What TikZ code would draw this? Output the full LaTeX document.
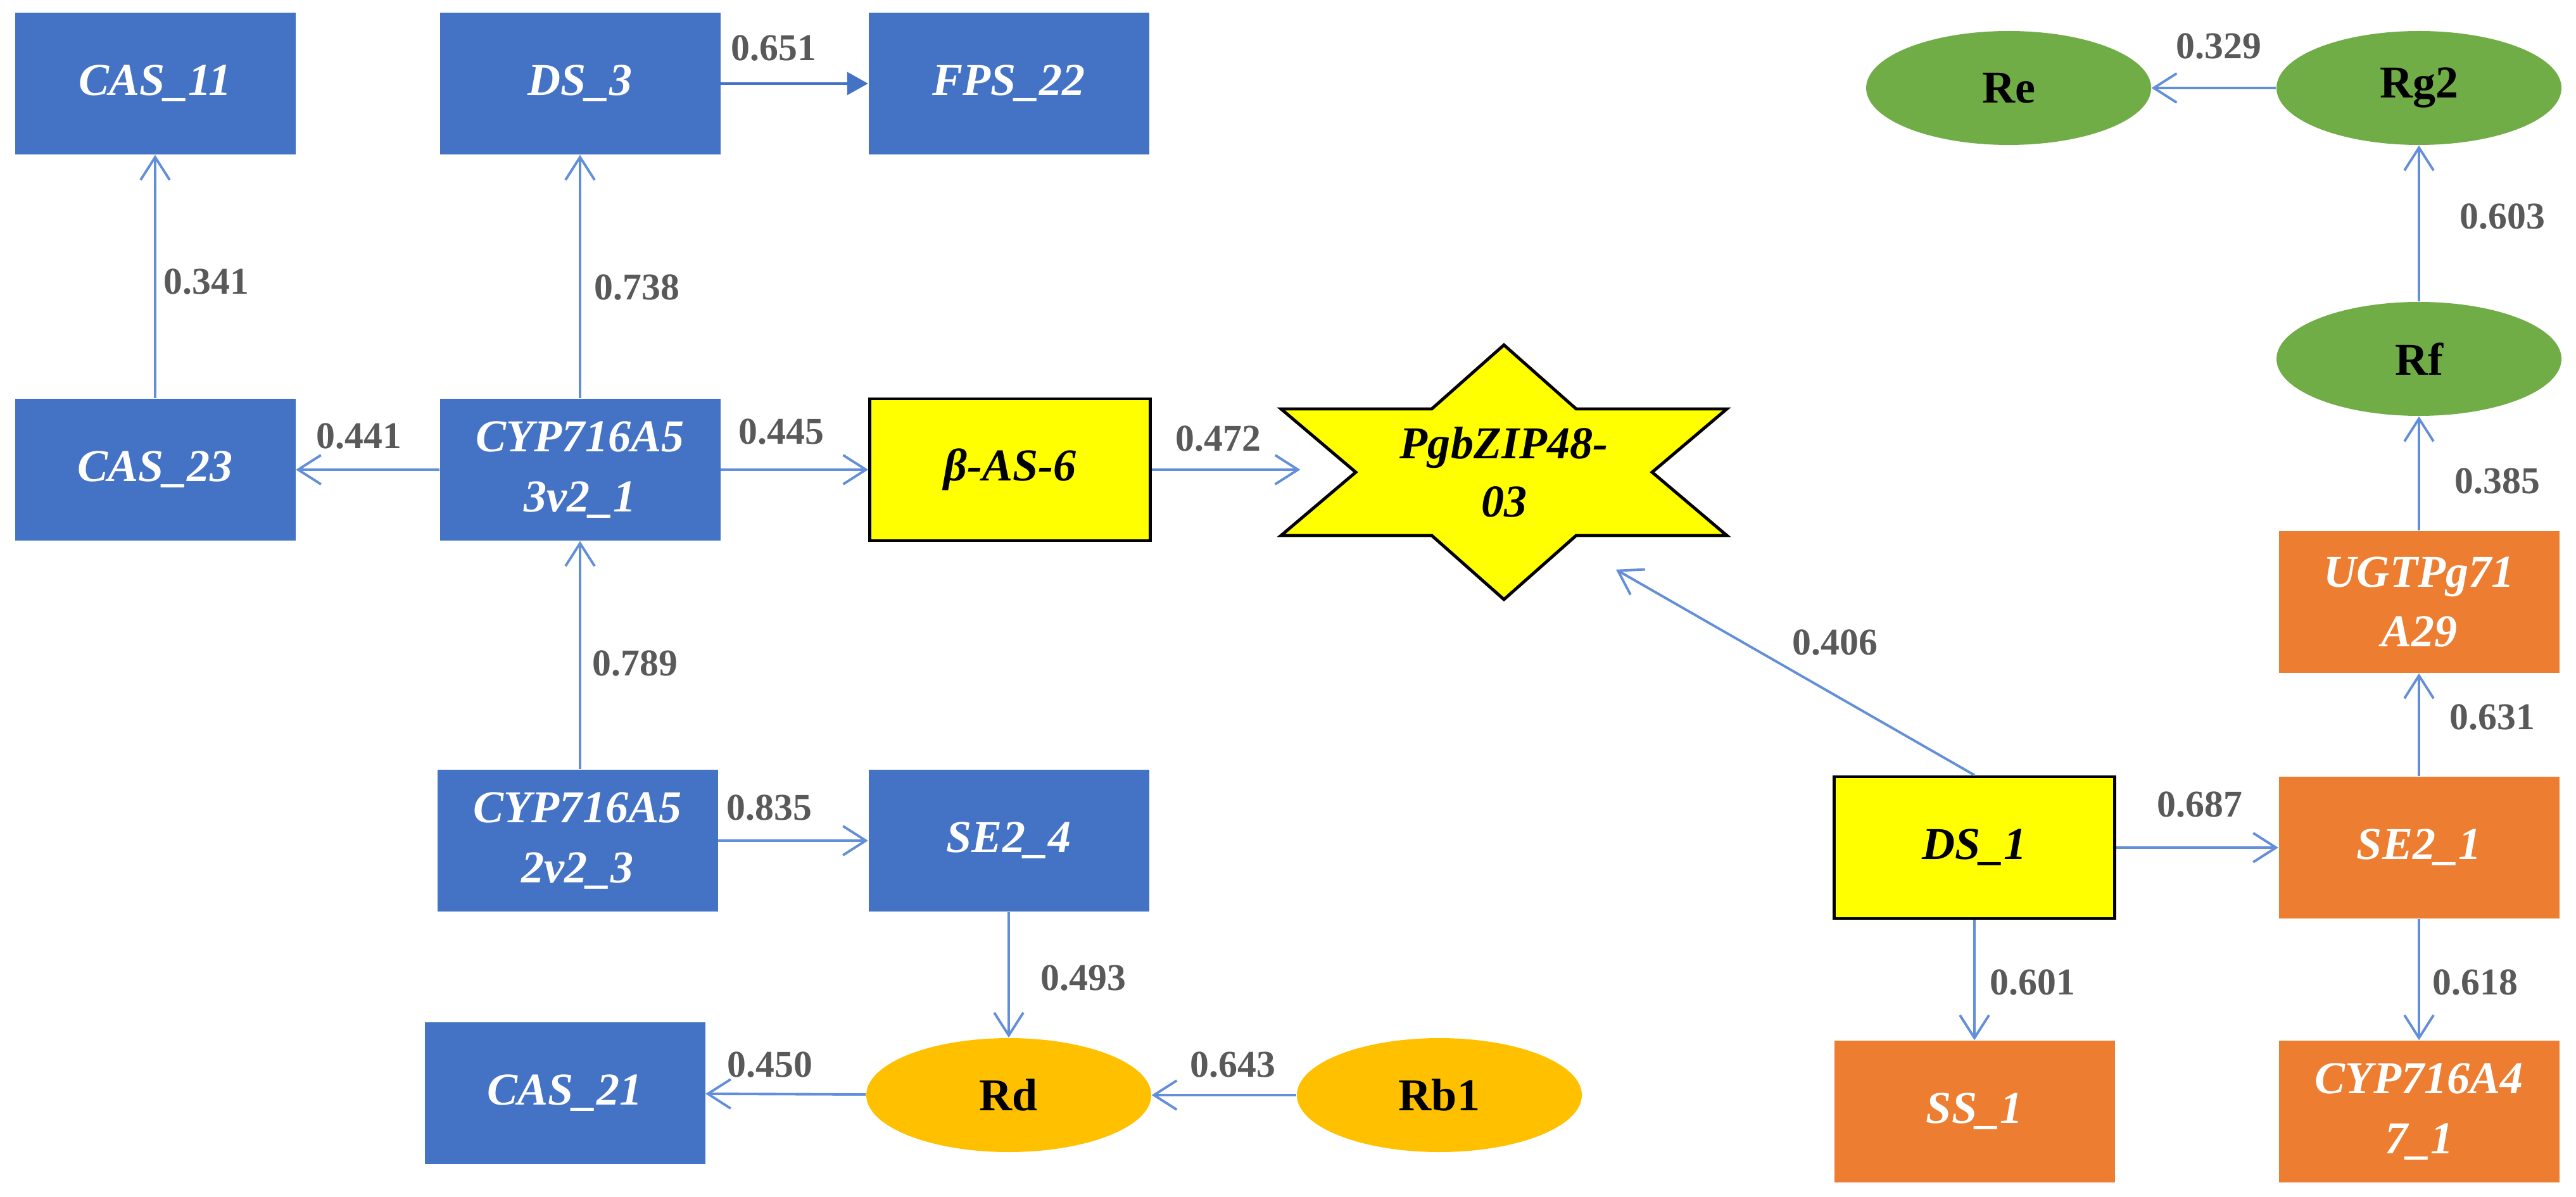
\documentclass[tikz,border=0pt]{standalone}
\usepackage{fontspec}
\setmainfont{Liberation Serif}
\usepackage{tikz}
\usetikzlibrary{arrows.meta,shapes.geometric}
\definecolor{geneblue}{RGB}{68,114,196}
\definecolor{geneorange}{RGB}{237,125,49}
\definecolor{ginsgreen}{RGB}{112,173,71}
\definecolor{ginsgold}{RGB}{255,192,0}
\definecolor{hub}{RGB}{255,255,0}
\definecolor{linkblue}{RGB}{98,142,218}
\definecolor{wtext}{RGB}{89,89,89}

\begin{document}
\begin{tikzpicture}[scale=1,
  gene/.style={rectangle,minimum width=4.43cm,minimum height=2.24cm,inner sep=0pt,align=center,
    text=white,font=\fontsize{20.5}{27}\selectfont\bfseries\itshape},
  blue/.style={gene,fill=geneblue},
  orange/.style={gene,fill=geneorange},
  hubbox/.style={gene,fill=hub,draw=black,line width=1.4pt,text=black},
  saponin/.style={ellipse,minimum width=4.5cm,minimum height=1.8cm,inner sep=0pt,
    font=\fontsize{20.5}{27}\selectfont\bfseries},
  wt/.style={inner sep=0pt,text=wtext,font=\fontsize{17}{20}\selectfont\bfseries},
  link/.style={draw=linkblue,line width=1.1pt,-{Straight Barb[length=3.6mm,width=4.6mm]}}]
\useasboundingbox (0,0) rectangle (40.68,18.90);
\fill[white] (0,0) rectangle (40.68,18.90);

% left block
\node[blue] (cas11) at (2.45,17.58) {CAS\_11};
\node[blue] (ds3) at (9.16,17.58) {DS\_3};
\node[blue] (fps22) at (15.93,17.58) {FPS\_22};
\node[blue] (cas23) at (2.45,11.48) {CAS\_23};
\node[blue] (cyp53) at (9.16,11.48) {CYP716A5\\3v2\_1};
\node[hubbox] (bas6) at (15.95,11.48) {β-AS-6};
\node[blue] (cyp52) at (9.12,5.62) {CYP716A5\\2v2\_3};
\node[blue] (se24) at (15.93,5.62) {SE2\_4};
\node[blue] (cas21) at (8.92,1.63) {CAS\_21};
\node[saponin,fill=ginsgold] (rd) at (15.93,1.60) {Rd};
\node[saponin,fill=ginsgold] (rb1) at (22.73,1.60) {Rb1};

% transcription factor
\begin{scope}[shift={(23.75,11.44)}]
\filldraw[fill=hub,draw=black,line width=1.4pt,line join=miter]
  (0,2.01) -- (1.14,1.00) -- (3.52,1.00) -- (2.34,0) -- (3.52,-1.00) -- (1.14,-1.00)
  -- (0,-2.01) -- (-1.14,-1.00) -- (-3.52,-1.00) -- (-2.34,0) -- (-3.52,1.00) -- (-1.14,1.00) -- cycle;
\end{scope}
\node[ellipse,minimum width=6.42cm,minimum height=3.67cm,inner sep=0pt,align=center,
  font=\fontsize{20.5}{26}\selectfont\bfseries\itshape] (tf) at (23.75,11.44) {PgbZIP48-\\03};

% right block
\node[hubbox] (ds1) at (31.18,5.51) {DS\_1};
\node[orange] (se21) at (38.20,5.51) {SE2\_1};
\node[orange] (ss1) at (31.18,1.34) {SS\_1};
\node[orange] (cyp47) at (38.20,1.34) {CYP716A4\\7\_1};
\node[orange] (ugt) at (38.20,9.39) {UGTPg71\\A29};
\node[saponin,fill=ginsgreen] (rf) at (38.20,13.23) {Rf};
\node[saponin,fill=ginsgreen] (rg2) at (38.20,17.51) {Rg2};
\node[saponin,fill=ginsgreen] (re) at (31.72,17.51) {Re};

% edges
\draw[link] (cas23) -- (cas11);
\draw[link] (cyp53) -- (ds3);
\draw[draw=geneblue,line width=1.1pt,-{Triangle[length=3.3mm,width=3.6mm]}] (ds3) -- (fps22);
\draw[link] (cyp53) -- (cas23);
\draw[link] (cyp53) -- (bas6);
\draw[link] (bas6.east) -- (bas6.east -| tf.west);
\draw[link] (cyp53.south |- cyp52.north) -- (cyp53.south);
\draw[link] (cyp52) -- (se24);
\draw[link] (se24) -- (rd);
\draw[link] (rd) -- (cas21);
\draw[link] (rb1) -- (rd);
\draw[link] (ds1.north) -- (tf.-41);
\draw[link] (ds1) -- (se21);
\draw[link] (ds1) -- (ss1);
\draw[link] (se21) -- (ugt);
\draw[link] (se21) -- (cyp47);
\draw[link] (ugt) -- (rf);
\draw[link] (rf) -- (rg2);
\draw[link] (rg2) -- (re);

% weights
\node[wt] (r651) at (12.22,18.14) {0.651};
\node[wt] (r341) at (3.26,14.45) {0.341};
\node[wt] (r738) at (10.06,14.36) {0.738};
\node[wt] (r441) at (5.67,12.01) {0.441};
\node[wt] (r445) at (12.34,12.08) {0.445};
\node[wt] (r472) at (19.24,11.97) {0.472};
\node[wt] (r789) at (10.03,8.42) {0.789};
\node[wt] (r835) at (12.15,6.14) {0.835};
\node[wt] (r493) at (17.11,3.45) {0.493};
\node[wt] (r450) at (12.16,2.08) {0.450};
\node[wt] (r643) at (19.47,2.08) {0.643};
\node[wt] (r406) at (28.98,8.75) {0.406};
\node[wt] (r687) at (34.74,6.19) {0.687};
\node[wt] (r601) at (32.10,3.38) {0.601};
\node[wt] (r618) at (39.09,3.38) {0.618};
\node[wt] (r631) at (39.36,7.57) {0.631};
\node[wt] (r385) at (39.44,11.30) {0.385};
\node[wt] (r603) at (39.52,15.48) {0.603};
\node[wt] (r329) at (35.04,18.17) {0.329};
\end{tikzpicture}
\end{document}
